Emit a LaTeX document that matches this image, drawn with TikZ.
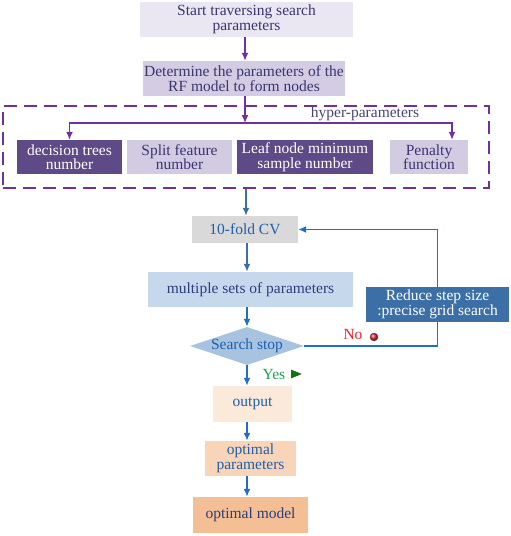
\documentclass[tikz,border=0pt]{standalone}
\usepackage{fontspec}
\setmainfont{Liberation Serif}
\usetikzlibrary{shapes.geometric,arrows.meta}

\definecolor{lavlight}{HTML}{EAE6F2}
\definecolor{lavmid}{HTML}{D4CCE2}
\definecolor{lavpale}{HTML}{D3CBE1}
\definecolor{purpdark}{HTML}{5E4A86}
\definecolor{purpline}{HTML}{7030A0}
\definecolor{inktext}{HTML}{3A3670}
\definecolor{steel}{HTML}{3B6FA6}
\definecolor{loopblue}{HTML}{1F6FC5}
\definecolor{bluetext}{HTML}{1F5FAE}
\definecolor{navytext}{HTML}{2C3E7E}
\definecolor{cvgray}{HTML}{D9D9D9}
\definecolor{paleblue}{HTML}{C6D9EC}
\definecolor{diamblue}{HTML}{A8C3E0}
\definecolor{peach1}{HTML}{FBE9DA}
\definecolor{peach2}{HTML}{F8D5B8}
\definecolor{peach3}{HTML}{F4BF94}
\definecolor{nored}{HTML}{E8202A}
\definecolor{yesgreen}{HTML}{1AA04A}

\tikzset{
    stepbox/.style={rectangle, inner sep=1pt, align=center,
        font=\fontsize{15.5}{14.5}\selectfont},
    purparrow/.style={-{Latex[length=8pt,width=7pt]}, purpline, line width=1.4pt},
    bluearrow/.style={-{Latex[length=8pt,width=7pt]}, loopblue, line width=1.8pt},
    steelarrow/.style={-{Latex[length=8pt,width=7pt]}, steel, line width=1.8pt},
}

\begin{document}
\begin{tikzpicture}[x=1pt,y=-1pt]
        \useasboundingbox (0,0) rectangle (511,536);

        % top part
        \node[stepbox,
        minimum width = 213pt,
        minimum height = 35pt,
        fill=lavlight,
        text=inktext,
        ] (start) at (246.5,19.5) {Start traversing search\\parameters};
        \node[stepbox,
        minimum width = 198pt,
        minimum height = 35pt,
        fill=lavmid,
        text=inktext,
        ] (det) at (244,78.5) {Determine the parameters of the\\RF model to form nodes};

        % hyper-parameters group
        \node[rectangle,
        draw=purpline,
        dash pattern=on 13pt off 7pt,
        line width=1.4pt,
        minimum width = 486pt,
        minimum height = 82pt,
        ] (hyp) at (246,147) {};
        \node[font=\fontsize{15.5}{14.5}\selectfont, text=inktext!80!gray] (hyplabel) at (365,114) {hyper-parameters};

        \node[stepbox,
        minimum width = 105pt,
        minimum height = 34pt,
        fill=purpdark,
        text=white,
        ] (trees) at (69.5,157) {decision trees\\number};
        \node[stepbox,
        minimum width = 105pt,
        minimum height = 34pt,
        fill=lavpale,
        text=inktext,
        ] (split) at (179.5,157) {Split feature\\number};
        \node[stepbox,
        minimum width = 136pt,
        minimum height = 34pt,
        fill=purpdark,
        text=white,
        ] (leaf) at (305,157) {Leaf node minimum\\sample number};
        \node[stepbox,
        minimum width = 78pt,
        minimum height = 34pt,
        fill=lavpale,
        text=inktext,
        ] (pen) at (429,157) {Penalty\\function};

        % search loop
        \node[stepbox,
        minimum width = 106pt,
        minimum height = 27pt,
        fill=cvgray,
        text=bluetext,
        ] (cv) at (245,229.5) {10-fold CV};
        \node[stepbox,
        minimum width = 205pt,
        minimum height = 35pt,
        fill=paleblue,
        text=navytext,
        ] (multi) at (250.5,289.5) {multiple sets of parameters};
        \node[diamond,
        aspect=3,
        inner sep=0pt,
        minimum width = 114pt,
        minimum height = 38pt,
        fill=diamblue,
        text=bluetext,
        font=\fontsize{15.5}{14.5}\selectfont,
        ] (stop) at (247,346) {Search stop};

        \draw[loopblue, line width=1.4pt] (stop.east) -| (437.5,304.5);
        \node[stepbox,
        minimum width = 143pt,
        minimum height = 35pt,
        fill=steel,
        text=white,
        ] (reduce) at (437.5,304.5) {Reduce step size\\:precise grid search};
        \draw[-{Latex[length=8pt,width=7pt]}, loopblue, line width=1.4pt] (reduce.north) |- (cv.east);

        \node[font=\fontsize{15.5}{14.5}\selectfont, text=nored] (no) at (353,334) {No};
        \node[circle, inner sep=0pt, minimum size=8pt, draw=black!70, thin,
        shading=ball, ball color=nored] (nodot) at (374,337) {};
        \node[font=\fontsize{15.5}{14.5}\selectfont, text=yesgreen] (yes) at (274,374) {Yes};
        \node[isosceles triangle, inner sep=0pt, minimum width=8pt, minimum height=7pt,
        fill=green!50!black, draw=black!80, thin] (yestip) at (294,374) {};

        % results
        \node[stepbox,
        minimum width = 79pt,
        minimum height = 36pt,
        fill=peach1,
        text=bluetext,
        ] (out) at (252.5,404) {output};
        \node[stepbox,
        minimum width = 91pt,
        minimum height = 35pt,
        fill=peach2,
        text=bluetext,
        ] (optpar) at (250.5,458.5) {optimal\\parameters};
        \node[stepbox,
        minimum width = 115pt,
        minimum height = 36pt,
        fill=peach3,
        text=navytext,
        ] (optmod) at (250.5,515) {optimal model};

        % arrows
        \coordinate (fork) at (245,123);
        \draw[purparrow] (start.south -| 245,0) -- (det.north -| 245,0);
        \draw[purparrow] (det.south -| fork) -- (fork);
        \draw[purparrow] (fork) -| (trees.north);
        \draw[purparrow] (fork) -| (pen.north -| 452,0);
        \draw[steelarrow] (hyp.south) -- (hyp.south |- cv.north);
        \draw[steelarrow] (cv.south -| 247,0) -- (multi.north -| 247,0);
        \draw[bluearrow] (multi.south -| stop) -- (stop.north);
        \draw[bluearrow] (stop.south) -- (stop.south |- out.north);
        \draw[bluearrow] (out.south -| stop) -- (stop |- optpar.north);
        \draw[bluearrow] (optpar.south -| stop) -- (stop |- optmod.north);

\end{tikzpicture}
\end{document}
